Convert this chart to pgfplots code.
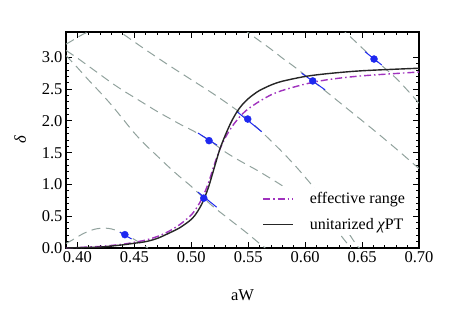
\documentclass[border=0pt]{standalone}
\usepackage{fontspec}
\setmainfont{Liberation Serif}
\usepackage{pgfplots}
\pgfplotsset{compat=1.18}
\definecolor{lgray}{RGB}{145,162,157}
\definecolor{mpurple}{RGB}{160,50,190}
\definecolor{mblue}{RGB}{30,40,240}
\begin{document}
\begin{tikzpicture}
\begin{axis}[
  at={(0pt,0pt)}, anchor=south west,
  scale only axis, width=353pt, height=216pt,
  xmin=0.39, xmax=0.70, ymin=0, ymax=3.4,
  xtick={0.40,0.45,...,0.70}, ytick={0,0.5,...,3.0},
  minor x tick num=4, minor y tick num=4,
  tick align=inside,
  major tick length=6pt, minor tick length=3pt,
  every tick/.style={black, line width=0.9pt},
  axis line style={line width=1.6pt},
  font=\fontsize{16.5}{19}\selectfont,
  /pgf/number format/assume math mode=true,
  xticklabel style={/pgf/number format/.cd, fixed, fixed zerofill, precision=2},
  yticklabel style={/pgf/number format/.cd, fixed, fixed zerofill, precision=1},
  xlabel={aW}, ylabel={\itshape δ},
  xlabel style={at={(axis description cs:0.5,-0.218)}, anchor=center},
  ylabel style={at={(axis description cs:-0.13,0.5)}, anchor=center},
  legend style={at={(rel axis cs:0.975,0.06)}, anchor=south east, fill=white, draw=none,
    font=\fontsize{16}{19}\selectfont, row sep=9pt, column sep=14pt},
  legend image code/.code={\draw[#1] (0pt,0pt) -- (30pt,0pt);},
  legend cell align=left,
]
% Luescher curves
\addplot[lgray, line width=1pt, dash pattern=on 9pt off 5.5pt, smooth, forget plot] coordinates {
 (0.390,0.07) (0.395,0.12) (0.400,0.175) (0.405,0.225) (0.410,0.265) (0.415,0.295) (0.420,0.31)
 (0.425,0.312) (0.430,0.30) (0.435,0.27) (0.440,0.23) (0.445,0.185) (0.450,0.135) (0.455,0.08) (0.460,0.02) (0.462,0.0)};
\addplot[lgray, line width=1pt, dash pattern=on 9pt off 5.5pt, smooth, forget plot] coordinates {
 (0.390,3.21) (0.395,3.26) (0.400,3.315) (0.405,3.365) (0.410,3.405) (0.415,3.435)};
\addplot[lgray, line width=1pt, dash pattern=on 9pt off 5.5pt, smooth, forget plot] coordinates {
 (0.390,3.03) (0.40,2.84) (0.41,2.64) (0.42,2.45) (0.43,2.25) (0.44,2.03) (0.45,1.81) (0.46,1.62)
 (0.47,1.45) (0.48,1.28) (0.49,1.12) (0.50,0.97) (0.51,0.80) (0.52,0.64) (0.53,0.50) (0.54,0.36)
 (0.55,0.22) (0.56,0.07) (0.565,0.0)};
\addplot[lgray, line width=1pt, dash pattern=on 9pt off 5.5pt, smooth, forget plot] coordinates {
 (0.390,3.11) (0.40,2.99) (0.41,2.86) (0.42,2.73) (0.43,2.60) (0.44,2.48) (0.45,2.37) (0.46,2.26)
 (0.47,2.15) (0.48,2.05) (0.49,1.95) (0.50,1.86) (0.51,1.76) (0.52,1.64) (0.53,1.51) (0.54,1.40)
 (0.55,1.30) (0.56,1.20) (0.58,0.98) (0.60,0.74) (0.62,0.44) (0.64,0.0)};
\addplot[lgray, line width=1pt, dash pattern=on 9pt off 5.5pt, smooth, forget plot] coordinates {
 (0.43,3.49) (0.44,3.37) (0.46,3.12) (0.48,2.88) (0.50,2.65) (0.52,2.42) (0.54,2.17) (0.55,2.02)
 (0.56,1.86) (0.58,1.51) (0.595,1.22) (0.61,0.90) (0.63,0.45) (0.645,0.05) (0.648,0.0)};
\addplot[lgray, line width=1pt, dash pattern=on 9pt off 5.5pt, smooth, forget plot] coordinates {
 (0.545,3.46) (0.55,3.39) (0.56,3.26) (0.57,3.13) (0.58,2.99) (0.59,2.86) (0.60,2.72) (0.6067,2.63)
 (0.62,2.44) (0.64,2.15) (0.66,1.86) (0.68,1.56) (0.70,1.25)};
\addplot[lgray, line width=1pt, dash pattern=on 9pt off 5.5pt, smooth, forget plot] coordinates {
 (0.630,3.48) (0.635,3.40) (0.64,3.32) (0.65,3.15) (0.6605,2.975) (0.67,2.83) (0.68,2.67) (0.69,2.48) (0.70,2.28)};
% error bars along curves
\addplot[mblue, line width=1pt, forget plot] coordinates {(0.4373,0.248) (0.4476,0.142)};
\addplot[mblue, line width=1pt, forget plot] coordinates {(0.5059,0.88) (0.5223,0.643)};
\addplot[mblue, line width=1pt, forget plot] coordinates {(0.5059,1.81) (0.5226,1.62)};
\addplot[mblue, line width=1pt, forget plot] coordinates {(0.5399,2.15) (0.5619,1.83)};
\addplot[mblue, line width=1pt, forget plot] coordinates {(0.597,2.75) (0.6175,2.49)};
\addplot[mblue, line width=1pt, forget plot] coordinates {(0.6526,3.09) (0.6673,2.88)};
% effective range
\addplot[color=mpurple, line width=1.4pt, dash pattern=on 7pt off 3pt on 1.5pt off 3pt, smooth] coordinates {
 (0.39,0.0) (0.40,0.008) (0.42,0.025) (0.44,0.06) (0.45,0.09) (0.46,0.125) (0.47,0.18) (0.48,0.26)
 (0.49,0.37) (0.50,0.52) (0.505,0.64) (0.51,0.80) (0.515,1.02) (0.52,1.30) (0.525,1.55) (0.53,1.74)
 (0.535,1.89) (0.54,2.01) (0.545,2.11) (0.55,2.19) (0.56,2.31) (0.57,2.41) (0.58,2.48) (0.60,2.58)
 (0.62,2.65) (0.65,2.71) (0.70,2.77)};
\addlegendentry{effective range}
% unitarized ChPT
\addplot[color=black!85, line width=1.4pt, smooth] coordinates {
 (0.39,0.0) (0.40,0.005) (0.42,0.015) (0.44,0.05) (0.45,0.075) (0.46,0.10) (0.47,0.15) (0.48,0.23)
 (0.49,0.32) (0.50,0.45) (0.505,0.56) (0.51,0.72) (0.515,0.95) (0.52,1.25) (0.525,1.55) (0.53,1.78)
 (0.535,1.98) (0.54,2.14) (0.545,2.26) (0.55,2.35) (0.555,2.42) (0.56,2.48) (0.57,2.565) (0.58,2.625)
 (0.60,2.70) (0.62,2.745) (0.65,2.79) (0.70,2.83)};
\addlegendentry{unitarized {\itshape χ}PT}
% data points
\addplot[only marks, mark=*, mark size=3.5pt, mblue, forget plot] coordinates {
 (0.4417,0.21) (0.511,0.785) (0.5156,1.69) (0.5496,2.03) (0.6067,2.63) (0.6605,2.975)};
\end{axis}
\pgfresetboundingbox
\path (-66pt,-66pt) rectangle (384pt,248pt);
\end{tikzpicture}
\end{document}
